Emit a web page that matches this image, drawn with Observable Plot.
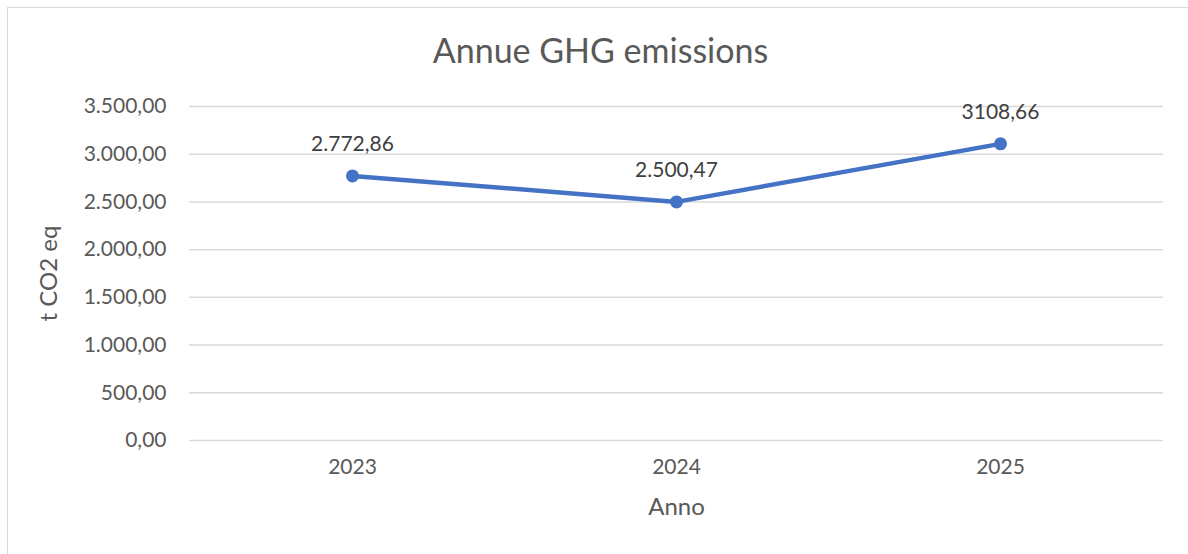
<!DOCTYPE html>
<html>
<head>
<meta charset="utf-8">
<script src="https://cdn.jsdelivr.net/npm/d3@7"></script>
<script src="https://cdn.jsdelivr.net/npm/@observablehq/plot@0.6"></script>
<style>
  html, body { margin: 0; padding: 0; background: #fff; }
  #frame { position: absolute; left: 7px; top: 7px; width: 1300px; height: 700px;
           border-left: 1.5px solid #d9d9d9; border-top: 1.5px solid #d9d9d9; box-sizing: border-box; }
  #wrap { position: absolute; left: 0; top: 0; width: 1188px; height: 554px; overflow: hidden; }
  #title { position: absolute; left: 0; top: 0; width: 1201px; height: 80px; text-align: center;
           font-family: Lato, "Open Sans", sans-serif; font-size: 34px; color: #595959; line-height: 100px; }
  #chart { position: absolute; left: 0; top: 80px; }
</style>
</head>
<body>
<div id="wrap">
  <div id="frame"></div>
  <div id="title">Annue GHG emissions</div>
  <div id="chart"></div>
</div>
<script>
const years = ["2023", "2024", "2025"];
const emissions = [2772.86, 2500.47, 3108.66];
const valueLabels = ["2.772,86", "2.500,47", "3108,66"];
const yTicks = [0, 500, 1000, 1500, 2000, 2500, 3000, 3500];

const data = years.map((y, i) => ({year: y, value: emissions[i], label: valueLabels[i]}));
const itFormat = d3.formatLocale({decimal: ",", thousands: ".", grouping: [3], currency: ["", "€"]}).format(",.2f");

const font = "Lato, 'Open Sans', sans-serif";
const chart = Plot.plot({
  width: 1188,
  height: 474,
  marginLeft: 189,
  marginRight: 25,
  marginTop: 26,
  marginBottom: 114,
  style: {fontFamily: font, fontSize: "21px", color: "#595959", background: "transparent"},
  x: {type: "point", domain: years, padding: 0.5},
  y: {domain: [0, 3500]},
  marks: [
    Plot.gridY(yTicks, {stroke: "#d9d9d9", strokeOpacity: 1, strokeWidth: 1.5}),
    Plot.axisY(yTicks, {tickSize: 0, tickPadding: 23, tickFormat: itFormat, fill: "#595959",
      fontSize: 21, label: "t CO2 eq", labelAnchor: "center", labelArrow: "none", labelOffset: 150}),
    Plot.axisX({tickSize: 0, tickPadding: 19, fill: "#595959", fontSize: 21,
      label: "Anno", labelAnchor: "center", labelArrow: "none", labelOffset: 74}),
    Plot.line(data, {x: "year", y: "value", stroke: "#4472C4", strokeWidth: 4.5}),
    Plot.dot(data, {x: "year", y: "value", fill: "#4472C4", r: 6.5}),
    Plot.text(data, {x: "year", y: "value", text: "label", dy: -32, fill: "#404040", fontSize: 21})
  ]
});
chart.querySelectorAll("[aria-label='y-axis label'] text, [aria-label='x-axis label'] text").forEach(t => {
  t.setAttribute("font-size", "24"); t.style.fontSize = "24px"; t.setAttribute("fill", "#595959");
});
document.getElementById("chart").appendChild(chart);
</script>
</body>
</html>
